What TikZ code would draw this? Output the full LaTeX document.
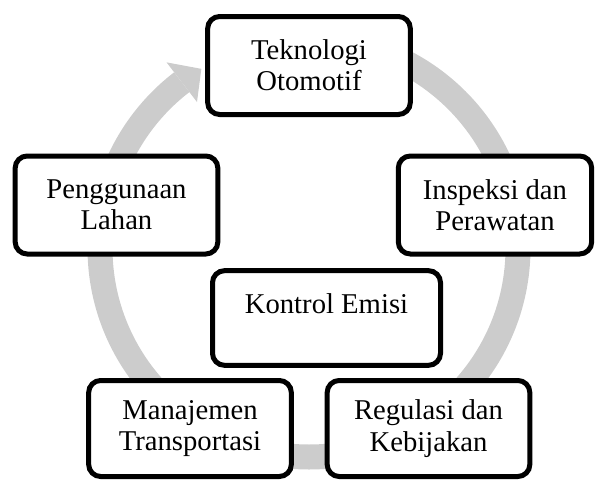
\documentclass[tikz,border=0pt]{standalone}
\usepackage{fontspec}
\setmainfont{Liberation Serif}
\usepackage{tikz}
\usetikzlibrary{calc}
\definecolor{ringgray}{RGB}{204,204,204}

\begin{document}
\begin{tikzpicture}
			[x=0.75pt, y=0.75pt,
			 main/.style = {draw, line width=3.75pt, rounded corners=9pt, fill=white, align=center,
			   font=\fontsize{21.5}{23.5}\selectfont, minimum width=152pt, minimum height=73.5pt, inner sep=2pt},
			 ring/.style = {draw=ringgray, line width=18.75pt}]
			\useasboundingbox (0,0) rectangle (596,480);
			\coordinate (c) at (309,232);
			% grey cycle behind the boxes
			\draw[ring] ($(c)+(90:209)$) arc[start angle=90, end angle=-232.5, radius=209];
			\fill[ringgray] ($(c)+(127.5:234)$) -- ($(c)+(121:209)$) -- ($(c)+(127.5:184)$) -- cycle;
			\node[main] (1) at (309,414.5) {Teknologi\\Otomotif};
			\node[main, minimum width=145pt] (2) at (495,275) {Inspeksi dan\\Perawatan};
			\node[main, minimum height=72pt] (3) at (428.5,51.5) {Regulasi dan\\Kebijakan};
			\node[main, minimum height=72pt] (4) at (190,51.5) {Manajemen\\Transportasi};
			\node[main] (5) at (116.5,275) {Penggunaan\\Lahan};
			\node[main, minimum width=171pt, minimum height=71pt, text height=15pt, text depth=22.5pt] (6) at (326.5,162) {Kontrol Emisi};
		\end{tikzpicture}
\end{document}
